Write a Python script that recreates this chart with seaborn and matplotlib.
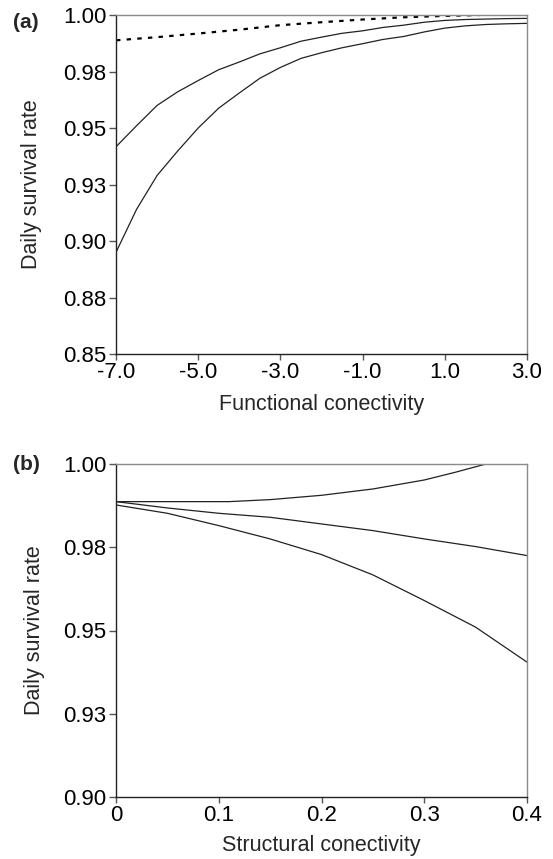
import numpy as np
import pandas as pd
import matplotlib
matplotlib.use("Agg")
import matplotlib.pyplot as plt
import seaborn as sns

# panel (a): functional connectivity
func_x = [-7, -6.5, -6, -5.5, -5, -4.5, -4, -3.5, -3, -2.5, -2,
          -1.5, -1, -0.5, 0, 0.5, 1, 1.5, 2, 2.5, 3]
func_upper = [0.9417, 0.9510, 0.9600, 0.9660, 0.9710, 0.9758, 0.9792, 0.9828,
              0.9855, 0.9884, 0.9902, 0.9919, 0.9930, 0.9945, 0.9955, 0.9968,
              0.9976, 0.9980, 0.9982, 0.9984, 0.9985]
func_lower = [0.8950, 0.9140, 0.9290, 0.9398, 0.9500, 0.9588, 0.9655, 0.9720,
              0.9768, 0.9808, 0.9833, 0.9855, 0.9873, 0.9892, 0.9905, 0.9925,
              0.9942, 0.9952, 0.9958, 0.9961, 0.9963]
dash_x = [-7, -6, -5, -4, -3, -2, -1, 0, 1, 1.85]
dash_y = [0.9888, 0.9902, 0.9918, 0.9935, 0.9955, 0.9968, 0.9980, 0.9990,
          0.9996, 1.0]

# panel (b): structural connectivity
struct_x = [0, 0.05, 0.1, 0.15, 0.2, 0.25, 0.3, 0.35, 0.4]
struct_up_x = [0, 0.05, 0.1, 0.11, 0.15, 0.2, 0.25, 0.3, 0.33, 0.36]
struct_upper = [0.9887, 0.9887, 0.9887, 0.9887, 0.9893, 0.9906, 0.9925,
                0.9952, 0.9975, 1.0]
struct_mid = [0.9887, 0.9868, 0.9852, 0.9840, 0.9820, 0.9800, 0.9775, 0.9752,
              0.9725]
struct_lower = [0.9877, 0.9852, 0.9815, 0.9775, 0.9728, 0.9667, 0.9590,
                0.9510, 0.9405]

yticks_a = [0.85, 0.875, 0.9, 0.925, 0.95, 0.975, 1.0]
ylabels_a = ["0.85", "0.88", "0.90", "0.93", "0.95", "0.98", "1.00"]
xticks_a = [-7, -5, -3, -1, 1, 3]
yticks_b = [0.9, 0.925, 0.95, 0.975, 1.0]
ylabels_b = ["0.90", "0.93", "0.95", "0.98", "1.00"]
xticks_b = [0, 0.1, 0.2, 0.3, 0.4]
xlabels_b = ["0", "0.1", "0.2", "0.3", "0.4"]

sns.set_style("ticks")
plt.rcParams['font.family'] = ['Liberation Sans', 'DejaVu Sans']

fig = plt.figure(figsize=(5.53, 8.59), dpi=100)
ax_a = fig.add_axes([116 / 553, 1 - 354 / 859, 411 / 553, 339 / 859])
ax_b = fig.add_axes([116 / 553, 1 - 797 / 859, 411 / 553, 333 / 859])

line_col = "#222222"

sns.lineplot(x=func_x, y=func_upper, ax=ax_a, color=line_col, lw=0.9)
sns.lineplot(x=func_x, y=func_lower, ax=ax_a, color=line_col, lw=0.9)
sns.lineplot(x=dash_x, y=dash_y, ax=ax_a, color="black", lw=1.6,
             linestyle=(0, (2.0, 2.8)))

sns.lineplot(x=struct_up_x, y=struct_upper, ax=ax_b, color=line_col, lw=0.9)
sns.lineplot(x=struct_x, y=struct_mid, ax=ax_b, color=line_col, lw=0.9)
sns.lineplot(x=struct_x, y=struct_lower, ax=ax_b, color=line_col, lw=0.9)


def style_axes(ax):
    for side in ["top", "right"]:
        ax.spines[side].set_color("#8a8a8a")
        ax.spines[side].set_linewidth(1.0)
    for side in ["left", "bottom"]:
        ax.spines[side].set_color("#222222")
        ax.spines[side].set_linewidth(1.0)
    ax.tick_params(axis="both", direction="out", length=5, width=1.0,
                   color="#555555", labelsize=16, labelcolor="black", pad=2)
    ax.tick_params(axis="x", length=4, pad=1.5)
    ax.grid(False)


ax_a.set_xlim(-7, 3)
ax_a.set_ylim(0.85, 1.0)
ax_a.set_xticks(xticks_a)
ax_a.set_xticklabels([f"{v:.1f}" for v in xticks_a])
ax_a.set_yticks(yticks_a)
ax_a.set_yticklabels(ylabels_a)
ax_a.set_xlabel("Functional conectivity", fontsize=15.5, labelpad=8)
ax_a.set_ylabel("Daily survival rate", fontsize=15.5, labelpad=15)
style_axes(ax_a)

ax_b.set_xlim(0, 0.4)
ax_b.set_ylim(0.9, 1.0)
ax_b.set_xticks(xticks_b)
ax_b.set_xticklabels(xlabels_b)
ax_b.set_yticks(yticks_b)
ax_b.set_yticklabels(ylabels_b)
ax_b.set_xlabel("Structural conectivity", fontsize=15.5, labelpad=7)
ax_b.set_ylabel("Daily survival rate", fontsize=15.5, labelpad=13)
style_axes(ax_b)

fig.text(13 / 553, 1 - 22 / 859, "(a)", fontsize=15, fontweight="bold",
         va="center", ha="left")
fig.text(13 / 553, 1 - 465 / 859, "(b)", fontsize=15, fontweight="bold",
         va="center", ha="left")

fig.savefig("out.png", dpi=100)
